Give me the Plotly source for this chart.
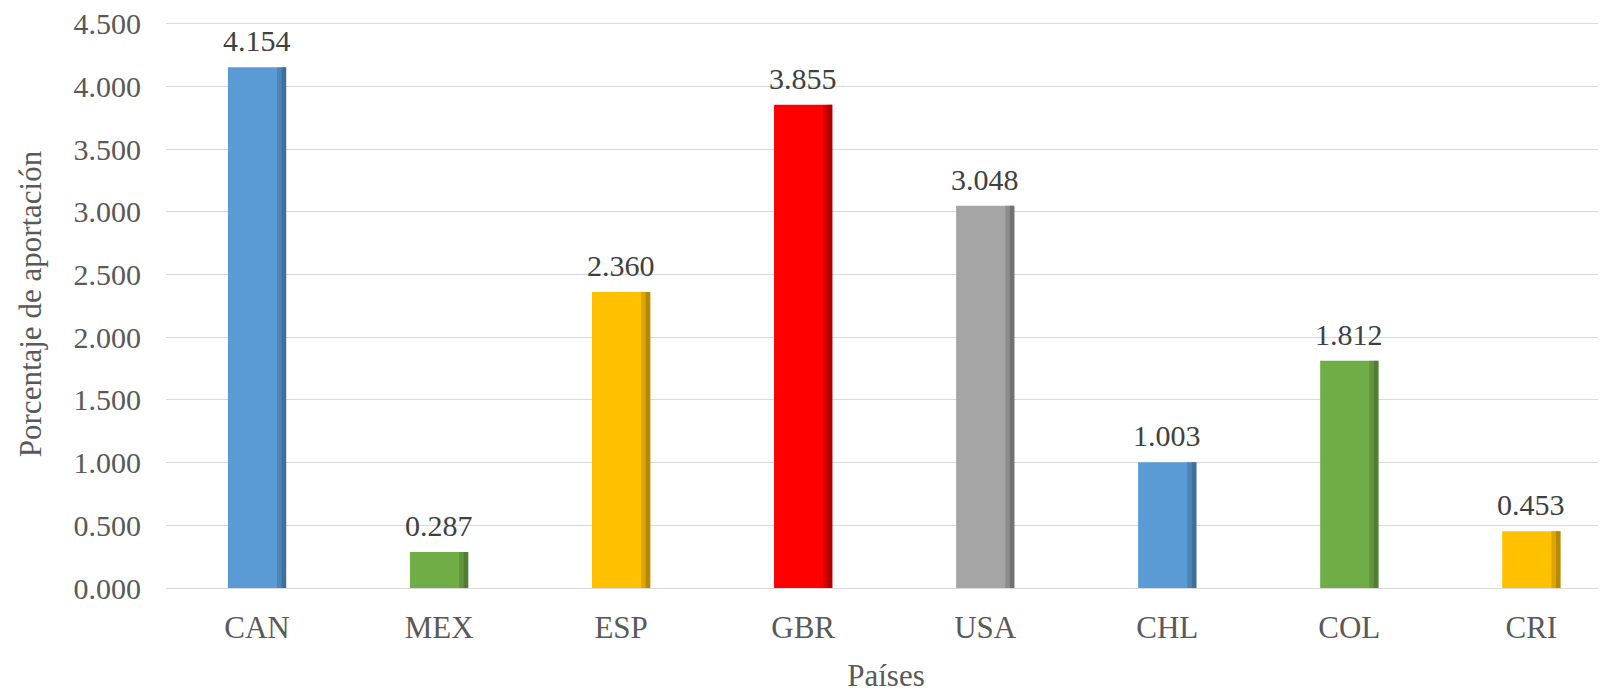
import plotly.graph_objects as go

categories = ["CAN", "MEX", "ESP", "GBR", "USA", "CHL", "COL", "CRI"]
values = [4.154, 0.287, 2.360, 3.855, 3.048, 1.003, 1.812, 0.453]
colors = ["#5B9BD5", "#70AD47", "#FFC000", "#FF0000", "#A5A5A5", "#5B9BD5", "#70AD47", "#FFC000"]
dark_colors = ["#2E5478", "#3D6127", "#8A6800", "#800000", "#555555", "#2E5478", "#3D6127", "#8A6800"]
labels = [f"{v:.3f}" for v in values]
tick_vals = [0, 0.5, 1, 1.5, 2, 2.5, 3, 3.5, 4, 4.5]
tick_text = [f"{v:.3f}" for v in tick_vals]

FONT = "Liberation Serif"

fig = go.Figure()
fig.add_trace(go.Bar(
    x=categories, y=values, width=0.32,
    marker=dict(color=colors, line=dict(width=0)),
    hoverinfo="skip",
))
fig.add_trace(go.Bar(
    x=categories, y=values, width=0.05, offset=0.11,
    marker=dict(color=dark_colors, line=dict(width=0), opacity=0.3),
    hoverinfo="skip",
))
fig.add_trace(go.Bar(
    x=categories, y=values, width=0.025, offset=0.135,
    marker=dict(color=dark_colors, line=dict(width=0), opacity=0.45),
    hoverinfo="skip",
))

for c, v, t in zip(categories, values, labels):
    fig.add_annotation(
        x=c, y=v, text=t, showarrow=False, yanchor="bottom", yshift=8,
        font=dict(family=FONT, size=30, color="#404040"),
    )

fig.update_layout(
    width=1598, height=685,
    barmode="overlay",
    showlegend=False,
    plot_bgcolor="white", paper_bgcolor="white",
    margin=dict(l=158, r=0, t=12, b=105),
    font=dict(family=FONT, color="#595959"),
    xaxis=dict(
        range=[-0.5, 7.41],
        showgrid=False, showline=True, linecolor="#D9D9D9", linewidth=1,
        tickfont=dict(family=FONT, size=31, color="#595959"),
        title=dict(text="Países", font=dict(family=FONT, size=31, color="#595959"), standoff=20),
        ticks="", ticklabelstandoff=12,
    ),
    yaxis=dict(
        range=[0, 4.53], tickvals=tick_vals, ticktext=tick_text,
        showgrid=True, gridcolor="#D9D9D9", gridwidth=1, zeroline=False,
        tickfont=dict(family=FONT, size=30, color="#595959"),
        title=dict(text="Porcentaje de aportación", font=dict(family=FONT, size=31, color="#595959"), standoff=22),
        ticks="", ticklabelstandoff=24, ticklabeloverflow="allow",
    ),
)

fig.write_html("out.html")
